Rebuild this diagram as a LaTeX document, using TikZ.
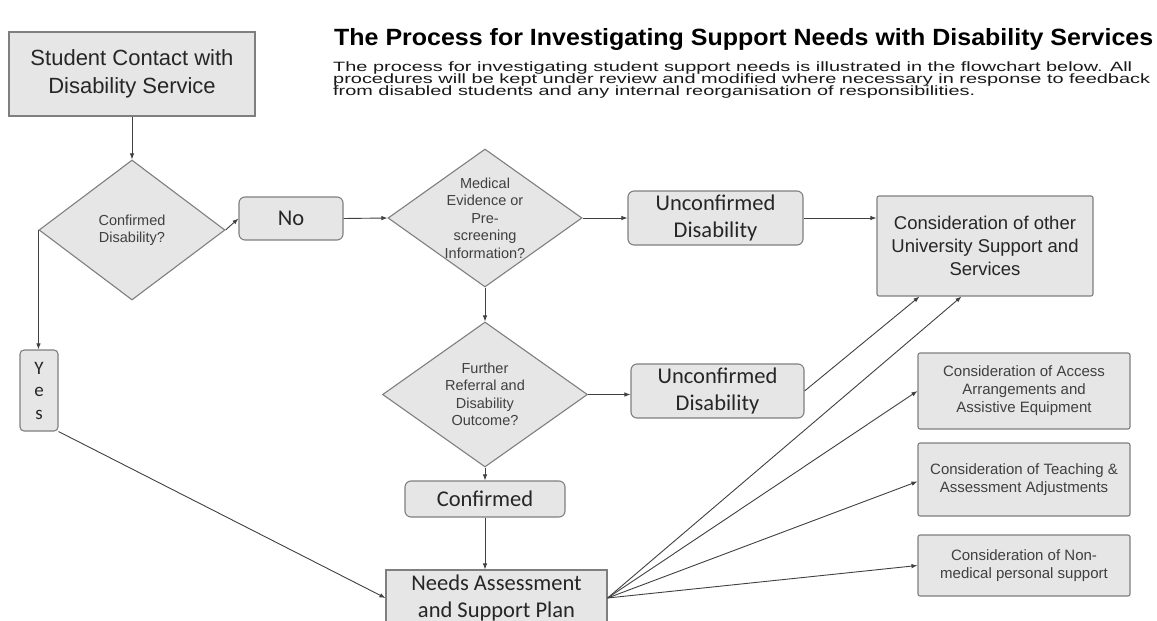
\documentclass[tikz,border=0pt]{standalone}
\usepackage{fontspec}
\usepackage{graphicx}
\setmainfont{Liberation Sans}
\newfontfamily\calibrifont{Carlito}
\newfontfamily\arialfont{Liberation Sans}
\usetikzlibrary{shapes.geometric,arrows.meta,calc}
\definecolor{boxfill}{HTML}{E6E6E6}
\definecolor{boxline}{HTML}{7F7F7F}
\definecolor{txt}{HTML}{262626}
\definecolor{ltxt}{HTML}{404040}
\definecolor{connc}{HTML}{404040}
\begin{document}
\begin{tikzpicture}[x=1pt,y=-1pt,
 box/.style={draw=boxline, fill=boxfill, line width=1.1pt, inner sep=0pt, align=center, text=txt},
 rbox/.style={box, rounded corners=6pt},
 cal/.style={font=\calibrifont\fontsize{22.5}{27}\selectfont},
 ar/.style={font=\arialfont\fontsize{18.5}{23}\selectfont},
 sm/.style={font=\arialfont\fontsize{15}{18}\selectfont, text=ltxt},
 dia/.style={diamond, draw=boxline, fill=boxfill, line width=1.1pt, inner sep=0pt},
 diatext/.style={font=\arialfont\fontsize{14.5}{17.5}\selectfont, text=ltxt, align=center, inner sep=0pt},
 conn/.style={draw=connc, line width=0.9pt, -{Latex[length=6pt,width=4.5pt]}},
 para/.style={anchor=base west, inner sep=0pt, font=\arialfont\fontsize{13.5}{13.5}\selectfont, text=black!90}
]
\useasboundingbox (0,0) rectangle (1157,621);

% title and introduction
\node[anchor=base west, inner sep=0pt, font=\arialfont\bfseries\fontsize{23.5}{27}\selectfont, text=black] (title) at (334,45)
  {\resizebox{819pt}{\height}{The Process for Investigating Support Needs with Disability Services}};
\node[para] (p1) at (333,71.5) {\resizebox{799pt}{\height}{The process for investigating student support needs is illustrated in the flowchart below. All}};
\node[para] (p2) at (333,83.5) {\resizebox{817pt}{\height}{procedures will be kept under review and modified where necessary in response to feedback}};
\node[para] (p3) at (333,95.5) {\resizebox{642pt}{\height}{from disabled students and any internal reorganisation of responsibilities.}};

% nodes
\node[box, font=\arialfont\fontsize{22}{28}\selectfont, minimum width=246pt, minimum height=84pt] (start) at (132,74) {Student Contact with\\Disability Service};
\node[dia, minimum width=186pt, minimum height=140pt,
  label={[diatext]center:{Confirmed\\Disability?}}] (d1) at (132,230) {};
\node[rbox, cal, minimum width=104pt, minimum height=43pt] (no) at (291,218.5) {No};
\node[dia, minimum width=194pt, minimum height=138pt,
  label={[diatext]center:{Medical\\Evidence or\\Pre-\\screening\\Information?}}] (d2) at (485,218) {};
\node[rbox, cal, minimum width=175pt, minimum height=54pt] (unc1) at (715.5,218) {Unconfirmed\\Disability};
\node[box, ar, rounded corners=2pt, minimum width=216pt, minimum height=100pt] (cons) at (985,246) {Consideration of other\\University Support and\\Services};
\node[dia, minimum width=205pt, minimum height=145pt,
  label={[diatext]center:{Further\\Referral and\\Disability\\Outcome?}}] (d3) at (485,394.5) {};
\node[rbox, cal, minimum width=173pt, minimum height=54pt] (unc2) at (717.5,391) {Unconfirmed\\Disability};
\node[rbox, cal, minimum width=160pt, minimum height=36pt] (conf) at (485,499) {Confirmed};
\node[box, cal, minimum width=221pt, minimum height=56pt] (needs) at (496.5,598) {Needs Assessment\\and Support Plan};
\node[box, font=\calibrifont\fontsize{19}{22.5}\selectfont, rounded corners=4pt, minimum width=38pt, minimum height=81pt] (yes) at (39,390.5) {Y\\e\\s};
\node[box, sm, rounded corners=2pt, minimum width=212pt, minimum height=76pt] (acc) at (1024,391) {Consideration of Access\\Arrangements and\\Assistive Equipment};
\node[box, sm, rounded corners=2pt, minimum width=212pt, minimum height=73pt] (teach) at (1024,479.5) {Consideration of Teaching \&\\Assessment Adjustments};
\node[box, sm, rounded corners=2pt, minimum width=212pt, minimum height=61pt] (nonmed) at (1024,565.5) {Consideration of Non-\\medical personal support};

% connectors
\coordinate (c1) at ([xshift=43pt]cons.south west);
\coordinate (c2) at ([xshift=85pt]cons.south west);
\draw[conn] (start.south) -- (d1.north);
\draw[conn] (d1.west) -- (d1.west |- yes.north);
\draw[conn] (d1.east) -- (no.west);
\draw[conn] (no.east) -- (d2.west);
\draw[conn] (d2.east) -- (unc1.west);
\draw[conn] (unc1.east) -- (unc1.east -| cons.west);
\draw[conn] (d2.south) -- (d3.north);
\draw[conn] (d3.east) -- (d3.east -| unc2.west);
\draw[conn] (d3.south) -- (conf.north);
\draw[conn] (conf.south) -- (conf.south |- needs.north);
\draw[conn] (yes.south east) -- (needs.west);
\draw[conn] (unc2.east) -- (c1);
\draw[conn] (needs.east) -- (c2);
\draw[conn] (needs.east) -- (acc.west);
\draw[conn] (needs.east) -- ([yshift=-2pt]teach.west);
\draw[conn] (needs.east) -- (nonmed.west);
\end{tikzpicture}
\end{document}
